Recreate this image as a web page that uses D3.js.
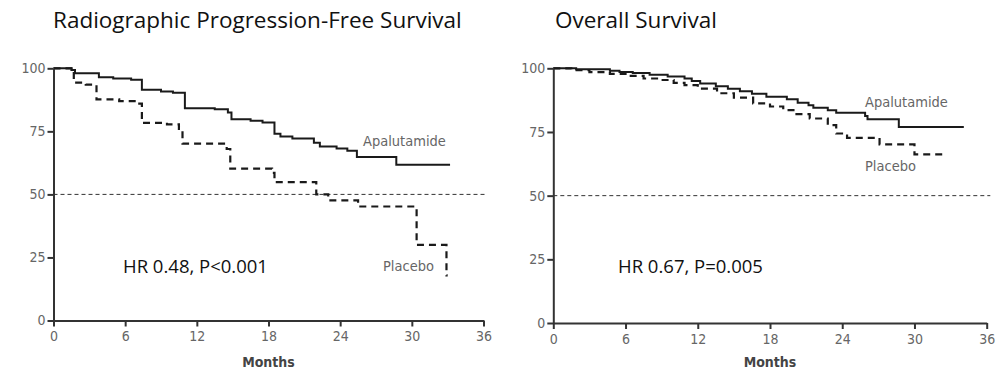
<!DOCTYPE html>
<html>
<head>
<meta charset="utf-8">
<script src="https://cdn.jsdelivr.net/npm/d3@7"></script>
<style>
  body { margin: 0; background: #fff; }
  .tick text { font-family: "Liberation Sans Narrow", "DejaVu Sans Condensed", sans-serif; font-size: 14px; fill: #666; }
  .title { font-family: "Open Sans", sans-serif; font-size: 22.5px; fill: #111; }
  .hr { font-family: "Open Sans", sans-serif; font-size: 18.5px; fill: #111; }
  .lab { font-family: "Liberation Sans Narrow", "DejaVu Sans Condensed", sans-serif; font-size: 14.5px; fill: #666; }
  .xlab { font-family: "Liberation Sans Narrow", "DejaVu Sans Condensed", sans-serif; font-size: 14px; font-weight: bold; fill: #444; }
</style>
</head>
<body>
<svg id="chart" width="1002" height="375"></svg>
<script>
// months ticks / survival ticks
var monthTicks = [0, 6, 12, 18, 24, 30, 36];
var pctTicks = [0, 25, 50, 75, 100];

// radiographic progression-free survival, [month, %]
var rpfsApalutamide = [[0,100],[1.5,99.3],[1.8,98],[3.8,96.5],[5,96],[6.5,95.5],[7.4,91.5],[9,90.8],[10,90.3],
  [11,84.2],[13.5,83.8],[14.6,82.5],[14.9,79.8],[16.5,79.2],[17.5,78.5],[18.5,74],[19,73],[20,72.2],[21.8,70.5],
  [22.3,69],[23.7,68.2],[24.6,67.3],[25.4,64.8],[28.7,61.8],[33.2,61.8]];
var rpfsPlacebo = [[0,100],[1.7,94.3],[2.7,93.5],[3.6,87.7],[5.5,87],[6.9,86],[7.4,78.4],[9.5,77.8],[10.5,76],
  [10.8,70.1],[14.5,68],[14.8,60.2],[18.3,58.5],[18.5,54.9],[22,50],[23,47.6],[25.5,45.2],[30.4,30],[32.9,17.9],[33,17.9]];

// overall survival, [month, %]
var osApalutamide = [[0,100],[1.9,99.6],[4.7,99],[5.5,98.5],[6.6,98.2],[8,97.5],[9.5,96.8],[10.9,96],[11.5,95],
  [12.2,94],[13.5,93],[14.5,92],[15.5,91],[16.5,90],[17.7,88.8],[19.4,87.8],[20.3,86.5],[21.2,85.5],[21.6,84.5],
  [22.8,83.5],[23.5,82.5],[25.9,81.3],[26.1,80],[28.7,77],[34.1,77]];
var osPlacebo = [[0,100],[1.5,99.3],[3,98.5],[4.7,97.8],[6,97],[7.5,96],[8.9,95.4],[10,94.3],[10.9,93.4],[12,92],
  [13.6,90.2],[15,88.5],[16.6,86.2],[18,85],[19.1,83.6],[20.2,82],[21.3,80.3],[22.8,77.7],[23.5,74.4],[24.4,72.7],
  [27.1,70.1],[30,66.2],[32.4,66.2]];

var svg = d3.select("#chart");

function drawPanel(p) {
  var x = d3.scaleLinear().domain([0, 36]).range([p.x0, p.x1]);
  var y = d3.scaleLinear().domain([0, 100]).range([p.y0, p.y1]);
  var g = svg.append("g");

  g.append("text").attr("class", "title").attr("x", p.titleX).attr("y", 28).text(p.title);

  // reference line at 50%
  g.append("line")
    .attr("x1", x(0)).attr("x2", x(36.3))
    .attr("y1", y(50)).attr("y2", y(50))
    .attr("stroke", "#333").attr("stroke-width", 1).attr("stroke-dasharray", "4,3");

  var line = d3.line().x(function (d) { return x(d[0]); }).y(function (d) { return y(d[1]); })
    .curve(d3.curveStepAfter);

  g.append("path").datum(p.placebo).attr("d", line)
    .attr("fill", "none").attr("stroke", "#1a1a1a").attr("stroke-width", 2.2).attr("stroke-dasharray", "7,5");
  g.append("path").datum(p.apal).attr("d", line)
    .attr("fill", "none").attr("stroke", "#1a1a1a").attr("stroke-width", 2);

  var xa = g.append("g").attr("transform", "translate(0," + p.y0 + ")")
    .call(d3.axisBottom(x).tickValues(monthTicks).tickSize(6).tickSizeOuter(0));
  var ya = g.append("g").attr("transform", "translate(" + p.x0 + ",0)")
    .call(d3.axisLeft(y).tickValues(pctTicks).tickSize(6).tickSizeOuter(0).tickPadding(2));
  [xa, ya].forEach(function (a) {
    a.select(".domain").attr("stroke", "#333").attr("stroke-width", 2);
    a.selectAll(".tick line").attr("stroke", "#333").attr("stroke-width", 2);
  });
  xa.selectAll(".tick text").attr("dy", "0.85em");

  g.append("text").attr("class", "xlab").attr("x", x(18)).attr("y", 367).attr("text-anchor", "middle").text("Months");
  g.append("text").attr("class", "hr").attr("x", p.hrX).attr("y", 273).text(p.hr);
  g.append("text").attr("class", "lab").attr("x", p.apLab[0]).attr("y", p.apLab[1]).text("Apalutamide");
  g.append("text").attr("class", "lab").attr("x", p.plLab[0]).attr("y", p.plLab[1]).text("Placebo");
}

drawPanel({ title: "Radiographic Progression-Free Survival", titleX: 53, x0: 53.5, x1: 483.5, y0: 320.5, y1: 68.3,
  apal: rpfsApalutamide, placebo: rpfsPlacebo, hr: "HR 0.48, P<0.001", hrX: 123,
  apLab: [363, 146], plLab: [383, 271] });
drawPanel({ title: "Overall Survival", titleX: 555, x0: 553.3, x1: 986.7, y0: 323, y1: 68.3,
  apal: osApalutamide, placebo: osPlacebo, hr: "HR 0.67, P=0.005", hrX: 618,
  apLab: [865, 107], plLab: [865, 171] });
</script>
</body>
</html>
